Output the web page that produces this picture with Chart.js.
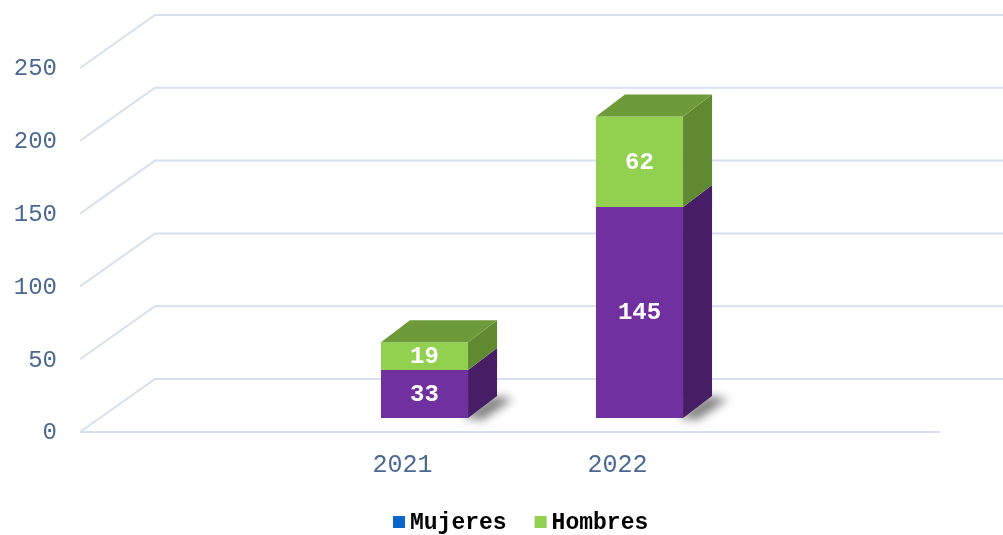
<!DOCTYPE html>
<html>
<head>
<meta charset="utf-8">
<script src="https://cdn.jsdelivr.net/npm/chart.js@4/dist/chart.umd.min.js"></script>
<style>
html, body { margin: 0; padding: 0; background: #fff; }
#grafico { display: block; }
</style>
</head>
<body>
<canvas id="grafico" width="1003" height="535"></canvas>
<script>
var anios = ['2021', '2022'];
var mujeres = [33, 145];
var hombres = [19, 62];
var marcasY = [0, 50, 100, 150, 200, 250];

var fuente = '"Liberation Mono", "Courier New", monospace';
var colorTexto = '#4a6890';
var colorRejilla = '#d5e0f0';
var coloresLeyenda = ['#0b66cc', '#92d050'];

// profundidad de las barras y de la caja
var barraDx = 29, barraDy = -22;
var frenteDy = 14, fondoDy = -39;

var caja3d = {
    id: 'caja3d',
    beforeDatasetsDraw: function (chart) {
        var ctx = chart.ctx;
        var y = chart.scales.y;
        var x = chart.scales.x;
        ctx.save();

        // rejilla: pared del fondo y diagonales
        ctx.strokeStyle = colorRejilla;
        ctx.lineWidth = 2;
        marcasY.forEach(function (v) {
            var py = y.getPixelForValue(v);
            ctx.beginPath();
            ctx.moveTo(80, py + frenteDy);
            ctx.lineTo(155, py + fondoDy);
            ctx.lineTo(1003, py + fondoDy);
            ctx.stroke();
        });
        var y0 = y.getPixelForValue(0) + frenteDy;
        ctx.beginPath();
        ctx.moveTo(80, y0);
        ctx.lineTo(940, y0);
        ctx.stroke();

        // etiquetas del eje Y
        ctx.fillStyle = colorTexto;
        ctx.font = '24px ' + fuente;
        ctx.textAlign = 'right';
        ctx.textBaseline = 'middle';
        marcasY.forEach(function (v) {
            ctx.fillText(String(v), 57, y.getPixelForValue(v) + frenteDy + 1);
        });

        // etiquetas del eje X
        ctx.font = '25px ' + fuente;
        ctx.textAlign = 'center';
        anios.forEach(function (a, i) {
            ctx.fillText(a, x.getPixelForValue(i) - 22, 465);
        });

        // sombras bajo las barras
        var meta = chart.getDatasetMeta(0);
        ctx.filter = 'blur(5px)';
        ctx.fillStyle = 'rgba(0,0,0,0.5)';
        meta.data.forEach(function (bar) {
            var xr = bar.x + bar.width / 2;
            var b = bar.base;
            ctx.beginPath();
            ctx.moveTo(xr - 6, b - 1);
            ctx.lineTo(xr + barraDx - 4, b + barraDy);
            ctx.lineTo(xr + barraDx + 16, b + barraDy + 3);
            ctx.lineTo(xr + 14, b + 2);
            ctx.closePath();
            ctx.fill();
        });
        ctx.filter = 'none';

        // leyenda
        ctx.font = 'bold 23px ' + fuente;
        ctx.textAlign = 'left';
        var lx = 393;
        chart.data.datasets.forEach(function (ds, i) {
            ctx.fillStyle = coloresLeyenda[i];
            ctx.fillRect(lx, 516, 12, 12);
            ctx.fillStyle = '#000';
            ctx.fillText(ds.label, lx + 17, 523);
            lx += 17 + ctx.measureText(ds.label).width + 28;
        });

        ctx.restore();
    },
    afterDatasetsDraw: function (chart) {
        var ctx = chart.ctx;
        var n = chart.data.datasets.length;
        ctx.save();
        chart.data.datasets.forEach(function (ds, i) {
            var meta = chart.getDatasetMeta(i);
            meta.data.forEach(function (bar) {
                var xl = bar.x - bar.width / 2;
                var xr = bar.x + bar.width / 2;
                var top = bar.y, b = bar.base;
                // cara lateral
                ctx.fillStyle = ds.colorLado;
                ctx.beginPath();
                ctx.moveTo(xr, top);
                ctx.lineTo(xr + barraDx, top + barraDy);
                ctx.lineTo(xr + barraDx, b + barraDy);
                ctx.lineTo(xr, b);
                ctx.closePath();
                ctx.fill();
                // tapa superior solo en la serie de arriba
                if (i === n - 1) {
                    ctx.fillStyle = ds.colorTapa;
                    ctx.beginPath();
                    ctx.moveTo(xl, top);
                    ctx.lineTo(xl + barraDx, top + barraDy);
                    ctx.lineTo(xr + barraDx, top + barraDy);
                    ctx.lineTo(xr, top);
                    ctx.closePath();
                    ctx.fill();
                }
            });
        });
        // etiquetas de datos
        ctx.fillStyle = '#fff';
        ctx.font = 'bold 24px ' + fuente;
        ctx.textAlign = 'center';
        ctx.textBaseline = 'middle';
        chart.data.datasets.forEach(function (ds, i) {
            var meta = chart.getDatasetMeta(i);
            meta.data.forEach(function (bar, j) {
                ctx.fillText(String(ds.data[j]), bar.x, (bar.y + bar.base) / 2 + 1);
            });
        });
        ctx.restore();
    }
};

var ctx = document.getElementById('grafico').getContext('2d');
var grafico = new Chart(ctx, {
    type: 'bar',
    data: {
        labels: anios,
        datasets: [{
            label: 'Mujeres',
            data: mujeres,
            backgroundColor: '#7030a0',
            colorLado: '#471d66',
            colorTapa: '#5a2682'
        }, {
            label: 'Hombres',
            data: hombres,
            backgroundColor: '#92d050',
            colorLado: '#5f8a32',
            colorTapa: '#6e9b3a'
        }]
    },
    options: {
        responsive: false,
        animation: false,
        devicePixelRatio: 1,
        layout: {
            padding: { left: 317, right: 256, top: 54, bottom: 117 }
        },
        datasets: {
            bar: { barPercentage: 1, categoryPercentage: 0.405 }
        },
        scales: {
            x: { stacked: true, display: false },
            y: { stacked: true, display: false, min: 0, max: 250 }
        },
        plugins: {
            legend: { display: false },
            tooltip: { enabled: false }
        }
    },
    plugins: [caja3d]
});
</script>
</body>
</html>
